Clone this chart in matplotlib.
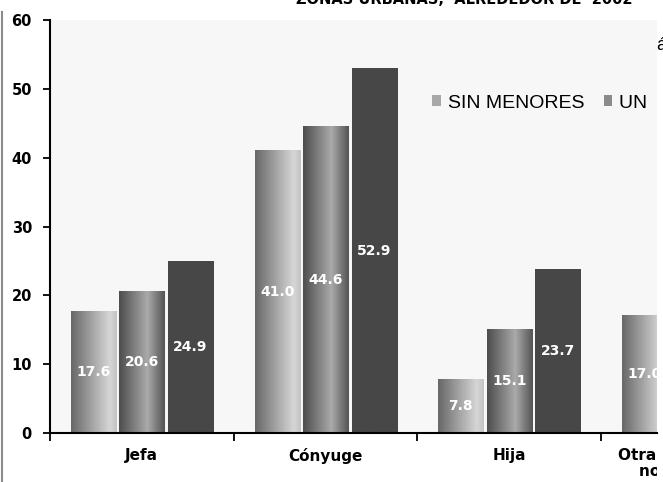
import matplotlib
matplotlib.use('Agg')
import matplotlib.pyplot as plt
import numpy as np
from matplotlib.patches import Patch
from matplotlib.lines import Line2D
from matplotlib.colors import LinearSegmentedColormap
from matplotlib.transforms import Bbox, TransformedBbox

categorias = ['Jefa', 'Cónyuge', 'Hija', 'Otras parientes y\nno parientes']
series = ['SIN MENORES', 'UN MENOR']
sin_menores = [17.6, 41.0, 7.8, 17.0]
un_menor = [20.6, 44.6, 15.1]
dos_menores = [24.9, 52.9, 23.7]
valores = [sin_menores, un_menor, dos_menores]

titulo = 'ZONAS URBANAS,  ALREDEDOR DE  2002'

# gradientes de las barras (izquierda -> derecha)
cmaps = [
    LinearSegmentedColormap.from_list('s1', [(0, '#686868'), (0.85, '#d6d6d6'), (1, '#c4c4c4')]),
    LinearSegmentedColormap.from_list('s2', [(0, '#4e4e4e'), (0.62, '#aaaaaa'), (1, '#555555')]),
    LinearSegmentedColormap.from_list('s3', [(0, '#474747'), (1, '#474747')]),
]
colores_leyenda = ['#a8a8a8', '#8a8a8a', '#474747']

fig = plt.figure(figsize=(6.63, 4.82), dpi=100)
ax = fig.add_axes([50 / 663, 1 - 433 / 482, 607 / 663, 413 / 482])
ax.set_facecolor('#f7f7f7')

# el grafico original esta recortado a la derecha
recorte = TransformedBbox(Bbox([[0, 0], [657 / 663, 1]]), fig.transFigure)
recorte_leyenda = TransformedBbox(Bbox([[0, 0], [652 / 663, 1]]), fig.transFigure)

ancho = 0.245
paso = 0.264
grad = np.linspace(0, 1, 64).reshape(1, -1)

for i, vals in enumerate(valores):
    x = np.arange(len(vals)) + (i - 1) * paso
    barras = ax.bar(x, vals, width=ancho, color='none', linewidth=0, zorder=3)
    for b, v in zip(barras, vals):
        x0 = b.get_x()
        im = ax.imshow(grad, cmap=cmaps[i], extent=[x0, x0 + ancho, 0, v],
                       aspect='auto', zorder=2, interpolation='bilinear')
        im.set_clip_path(ax.patch)
        ax.text(x0 + ancho / 2, v / 2, f'{v:.1f}', ha='center', va='center',
                color='white', fontsize=10, fontweight='bold', zorder=4, clip_on=True)

ax.set_xlim(-0.5, 2.804)
ax.set_ylim(0, 60)
ax.set_yticks(range(0, 61, 10))
ax.set_yticklabels([str(v) for v in range(0, 61, 10)], fontsize=10.5, fontweight='bold')
ax.tick_params(axis='y', length=5, width=1.3, pad=8)

ax.set_xticks([-0.5, 0.5, 1.5, 2.5])
ax.set_xticklabels([])
ax.tick_params(axis='x', length=6, width=1.3)
for j, c in enumerate(categorias):
    t = ax.text(j, -0.037, c, transform=ax.get_xaxis_transform(), ha='center', va='top',
                fontsize=11, fontweight='bold', linespacing=1.1)
    t.set_clip_box(recorte)
    t.set_clip_on(True)

for s in ['top', 'right']:
    ax.spines[s].set_visible(False)
for s in ['left', 'bottom']:
    ax.spines[s].set_linewidth(1.5)
    ax.spines[s].set_zorder(5)

handles = [Patch(facecolor=colores_leyenda[k], edgecolor='none') for k in range(len(series))]
leg = fig.legend(handles, series, loc='center left', bbox_to_anchor=(432 / 663, 1 - 103 / 482),
                 ncol=2, frameon=False, handlelength=0.45, handleheight=0.45,
                 handletextpad=0.35, columnspacing=1.0, borderpad=0, borderaxespad=0,
                 prop={'family': 'Liberation Sans', 'size': 14})
for t in leg.get_texts():
    t.set_clip_box(recorte_leyenda)
    t.set_clip_on(True)

fig.text(464 / 663, 1 - 3.5 / 482, titulo, ha='center', va='baseline',
         fontsize=10.5, fontweight='bold')
fig.text(656 / 663, 1 - 45 / 482, 'á', ha='left', va='center', fontsize=13,
         family='Liberation Sans')

fig.add_artist(Line2D([1.5 / 663, 1.5 / 663], [0, 1 - 12 / 482], color='#8c8c8c', linewidth=1.5))

fig.savefig('out.png', dpi=100)
